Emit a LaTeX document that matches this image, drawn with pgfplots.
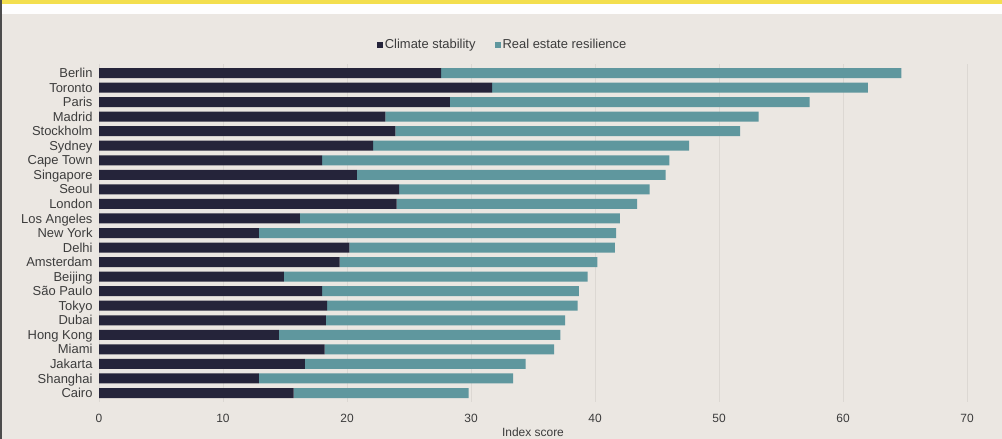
\documentclass[border=0pt]{standalone}
\usepackage{fontspec}
\setmainfont{Liberation Sans}
\usepackage{pgfplots}
\pgfplotsset{compat=1.18}
\usepackage{pgfplotstable}
\definecolor{bgc}{HTML}{EBE7E2}
\definecolor{navyc}{HTML}{25243A}
\definecolor{tealc}{HTML}{5F979E}
\definecolor{txtc}{HTML}{3C3C3C}
\definecolor{gridc}{HTML}{DCD8D3}
\definecolor{ylwc}{HTML}{F3DF4F}

% y: 22 = Berlin ... 0 = Cairo ; cs = climate stability ; re = real estate resilience
\pgfplotstableread{
y  cs    re
22 27.6  37.1
21 31.7  30.3
20 28.3  29.0
19 23.1  30.1
18 23.9  27.8
17 22.1  25.5
16 18.0  28.0
15 20.8  24.9
14 24.2  20.2
13 24.0  19.4
12 16.2  25.8
11 12.9  28.8
10 20.2  21.4
9  19.4  20.8
8  14.9  24.5
7  18.0  20.7
6  18.4  20.2
5  18.3  19.3
4  14.5  22.7
3  18.2  18.5
2  16.6  17.8
1  12.9  20.5
0  15.7  14.1
}\data

\begin{document}
\begin{tikzpicture}
\clip (0bp,0bp) rectangle (1002bp,439bp);
\fill[bgc] (0bp,0bp) rectangle (1002bp,425bp);
\fill[white!96!bgc] (0bp,425bp) rectangle (1002bp,435bp);
\fill[ylwc] (0bp,435bp) rectangle (1002bp,439bp);
\fill[black!70] (0bp,0bp) rectangle (2bp,439bp);
\begin{axis}[
  at={(99bp,37.27bp)}, anchor=south west,
  scale only axis, width=868bp, height=337.45bp,
  xbar stacked, bar width=10bp,
  xmin=0, xmax=70, ymin=-0.6, ymax=22.6,
  xtick={0,10,...,70},
  ytick={0,...,22},
  yticklabels={Cairo,Shanghai,Jakarta,Miami,Hong Kong,Dubai,Tokyo,S\~ao Paulo,Beijing,Amsterdam,Delhi,New York,Los Angeles,London,Seoul,Singapore,Cape Town,Sydney,Stockholm,Madrid,Paris,Toronto,Berlin},
  axis line style={draw=none},
  major tick length=0pt,
  xmajorgrids, grid style={gridc, line width=0.7pt},
  tick label style={text=txtc},
  xticklabel style={yshift=-9bp, font=\fontsize{12}{14}\selectfont},
  yticklabel style={anchor=base east, xshift=-3bp, yshift=-4.6bp, font=\fontsize{13}{15}\selectfont},
  /pgf/number format/assume math mode=true,
  xlabel={Index score},
  xlabel style={at={(axis description cs:0.5,0)}, anchor=center, yshift=-30bp, text=txtc, font=\fontsize{12}{14}\selectfont},
  legend style={at={(0.465,1)}, anchor=south, yshift=10bp, draw=none, fill=none,
    font=\fontsize{13}{15}\selectfont, text=txtc,
    nodes={inner sep=2bp},
    /tikz/every even column/.append style={column sep=17bp}},
  legend columns=2,
  legend image code/.code={\fill[#1] (0bp,-3bp) rectangle (6bp,3bp);},
]
\addplot[fill=navyc, draw=none] table[x=cs, y=y] {\data};
\addplot[fill=tealc, draw=none] table[x=re, y=y] {\data};
\legend{Climate stability, Real estate resilience}
\end{axis}
\end{tikzpicture}
\end{document}
